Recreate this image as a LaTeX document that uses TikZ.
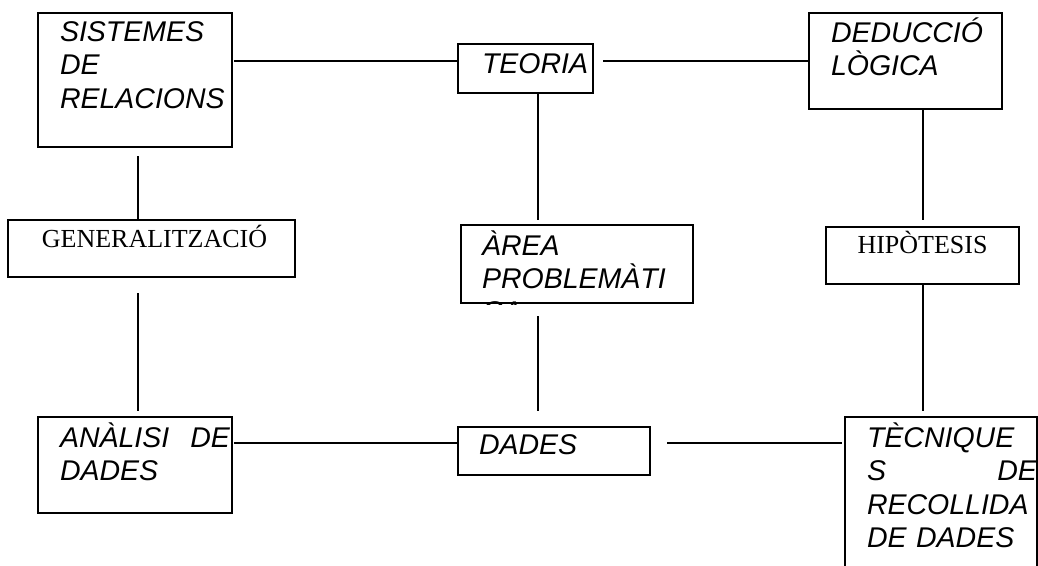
\documentclass[tikz,border=0pt]{standalone}
\usepackage{fontspec}
\newfontfamily\arialfont{Liberation Sans}
\newfontfamily\timesfont{Liberation Serif}
\usepackage{tikz}

\begin{document}
\begin{tikzpicture}[x=1pt, y=-1pt, line width=2pt,
    caixa/.style={rectangle, draw, inner sep=0pt},
    lletra/.style={anchor=north west, inner sep=0pt, text width=170pt, align=left,
      font=\arialfont\itshape\fontsize{28.5}{33.5}\selectfont},
    titol/.style={anchor=north, inner sep=0pt,
      font=\timesfont\fontsize{26}{30}\selectfont}]

          % Frame
          \useasboundingbox (0,0) rectangle (1038,565);
          \clip (0,0) rectangle (1038,565);

          % Boxes
          \node[caixa, minimum width=194pt, minimum height=134pt] (sis) at (135,80) {};
          \node[caixa, minimum width=135pt, minimum height=49pt] (teoria) at (525.5,68.5) {};
          \node[caixa, minimum width=193pt, minimum height=96pt] (ded) at (905.5,61) {};
          \node[caixa, minimum width=287pt, minimum height=57pt] (gen) at (151.5,248.5) {};
          \node[caixa, minimum width=232pt, minimum height=78pt] (area) at (577,264) {};
          \node[caixa, minimum width=193pt, minimum height=57pt] (hip) at (922.5,255.5) {};
          \node[caixa, minimum width=194pt, minimum height=96pt] (anal) at (135,465) {};
          \node[caixa, minimum width=192pt, minimum height=48pt] (dades) at (554,451) {};
          \node[caixa, minimum width=192pt, minimum height=193pt] (tec) at (941,513.5) {};

          % Texts
          \node[lletra] (sisT) at ([xshift=22,yshift=-2]sis.north west)
            {\rule{0pt}{26pt}SISTEMES\\ DE\\ RELACIONS};
          \node[lletra] (teoriaT) at ([xshift=24,yshift=-3]teoria.north west)
            {\rule{0pt}{26pt}TEORIA};
          \node[lletra] (dedT) at ([xshift=22,yshift=-3]ded.north west)
            {\rule{0pt}{26pt}DEDUCCIÓ\\ LÒGICA};
          \node[titol] (genT) at ([xshift=3,yshift=-3]gen.north)
            {\rule{0pt}{24pt}GENERALITZACIÓ};
          \node[titol] (hipT) at ([yshift=-2]hip.north)
            {\rule{0pt}{24pt}HIPÒTESIS};
          \begin{scope}
            \clip (area.north west) rectangle (area.south east);
            \node[lletra, text width=200pt] (areaT) at ([xshift=21,yshift=-4]area.north west)
              {\rule{0pt}{26pt}ÀREA\\ PROBLEMÀTI\\[-1pt] CA};
          \end{scope}
          \node[lletra] (analT) at ([xshift=22,yshift=-4]anal.north west)
            {\rule{0pt}{26pt}ANÀLISI \hfill DE\\ DADES};
          \node[lletra] (dadesT) at ([xshift=21,yshift=-1]dades.north west)
            {\rule{0pt}{26pt}DADES};
          \node[lletra] (tecT) at ([xshift=22,yshift=-4]tec.north west)
            {\rule{0pt}{26pt}TÈCNIQUE\\ S \hfill DE\\ RECOLLIDA\\ DE DADES};

          % Top row
          \draw ([xshift=1]sis.east |- ded.west) -- (teoria.west |- ded.west);
          \draw ([xshift=9]teoria.east |- ded.west) -- (ded.west);

          % Columns
          \draw ([xshift=3,yshift=-8]sis.south) -- ([xshift=3]sis.south |- gen.north);
          \draw ([xshift=3,yshift=-15]anal.north |- gen.south) -- ([xshift=3,yshift=5]anal.north);
          \draw ([xshift=12]teoria.south) -- ([xshift=12,yshift=4]teoria.south |- area.north);
          \draw ([xshift=12,yshift=-12]teoria.south |- area.south) -- ([xshift=12,yshift=15]teoria.south |- dades.north);
          \draw ([yshift=2]hip.north |- ded.south) -- ([yshift=6]hip.north);
          \draw (hip.south) -- ([yshift=5]hip.south |- tec.north);

          % Bottom row
          \draw ([xshift=1,yshift=8]anal.east |- dades.west) -- ([yshift=8]dades.west);
          \draw ([xshift=16,yshift=8]dades.east) -- ([xshift=-2,yshift=8]tec.west |- dades.east);

        \end{tikzpicture}
\end{document}
